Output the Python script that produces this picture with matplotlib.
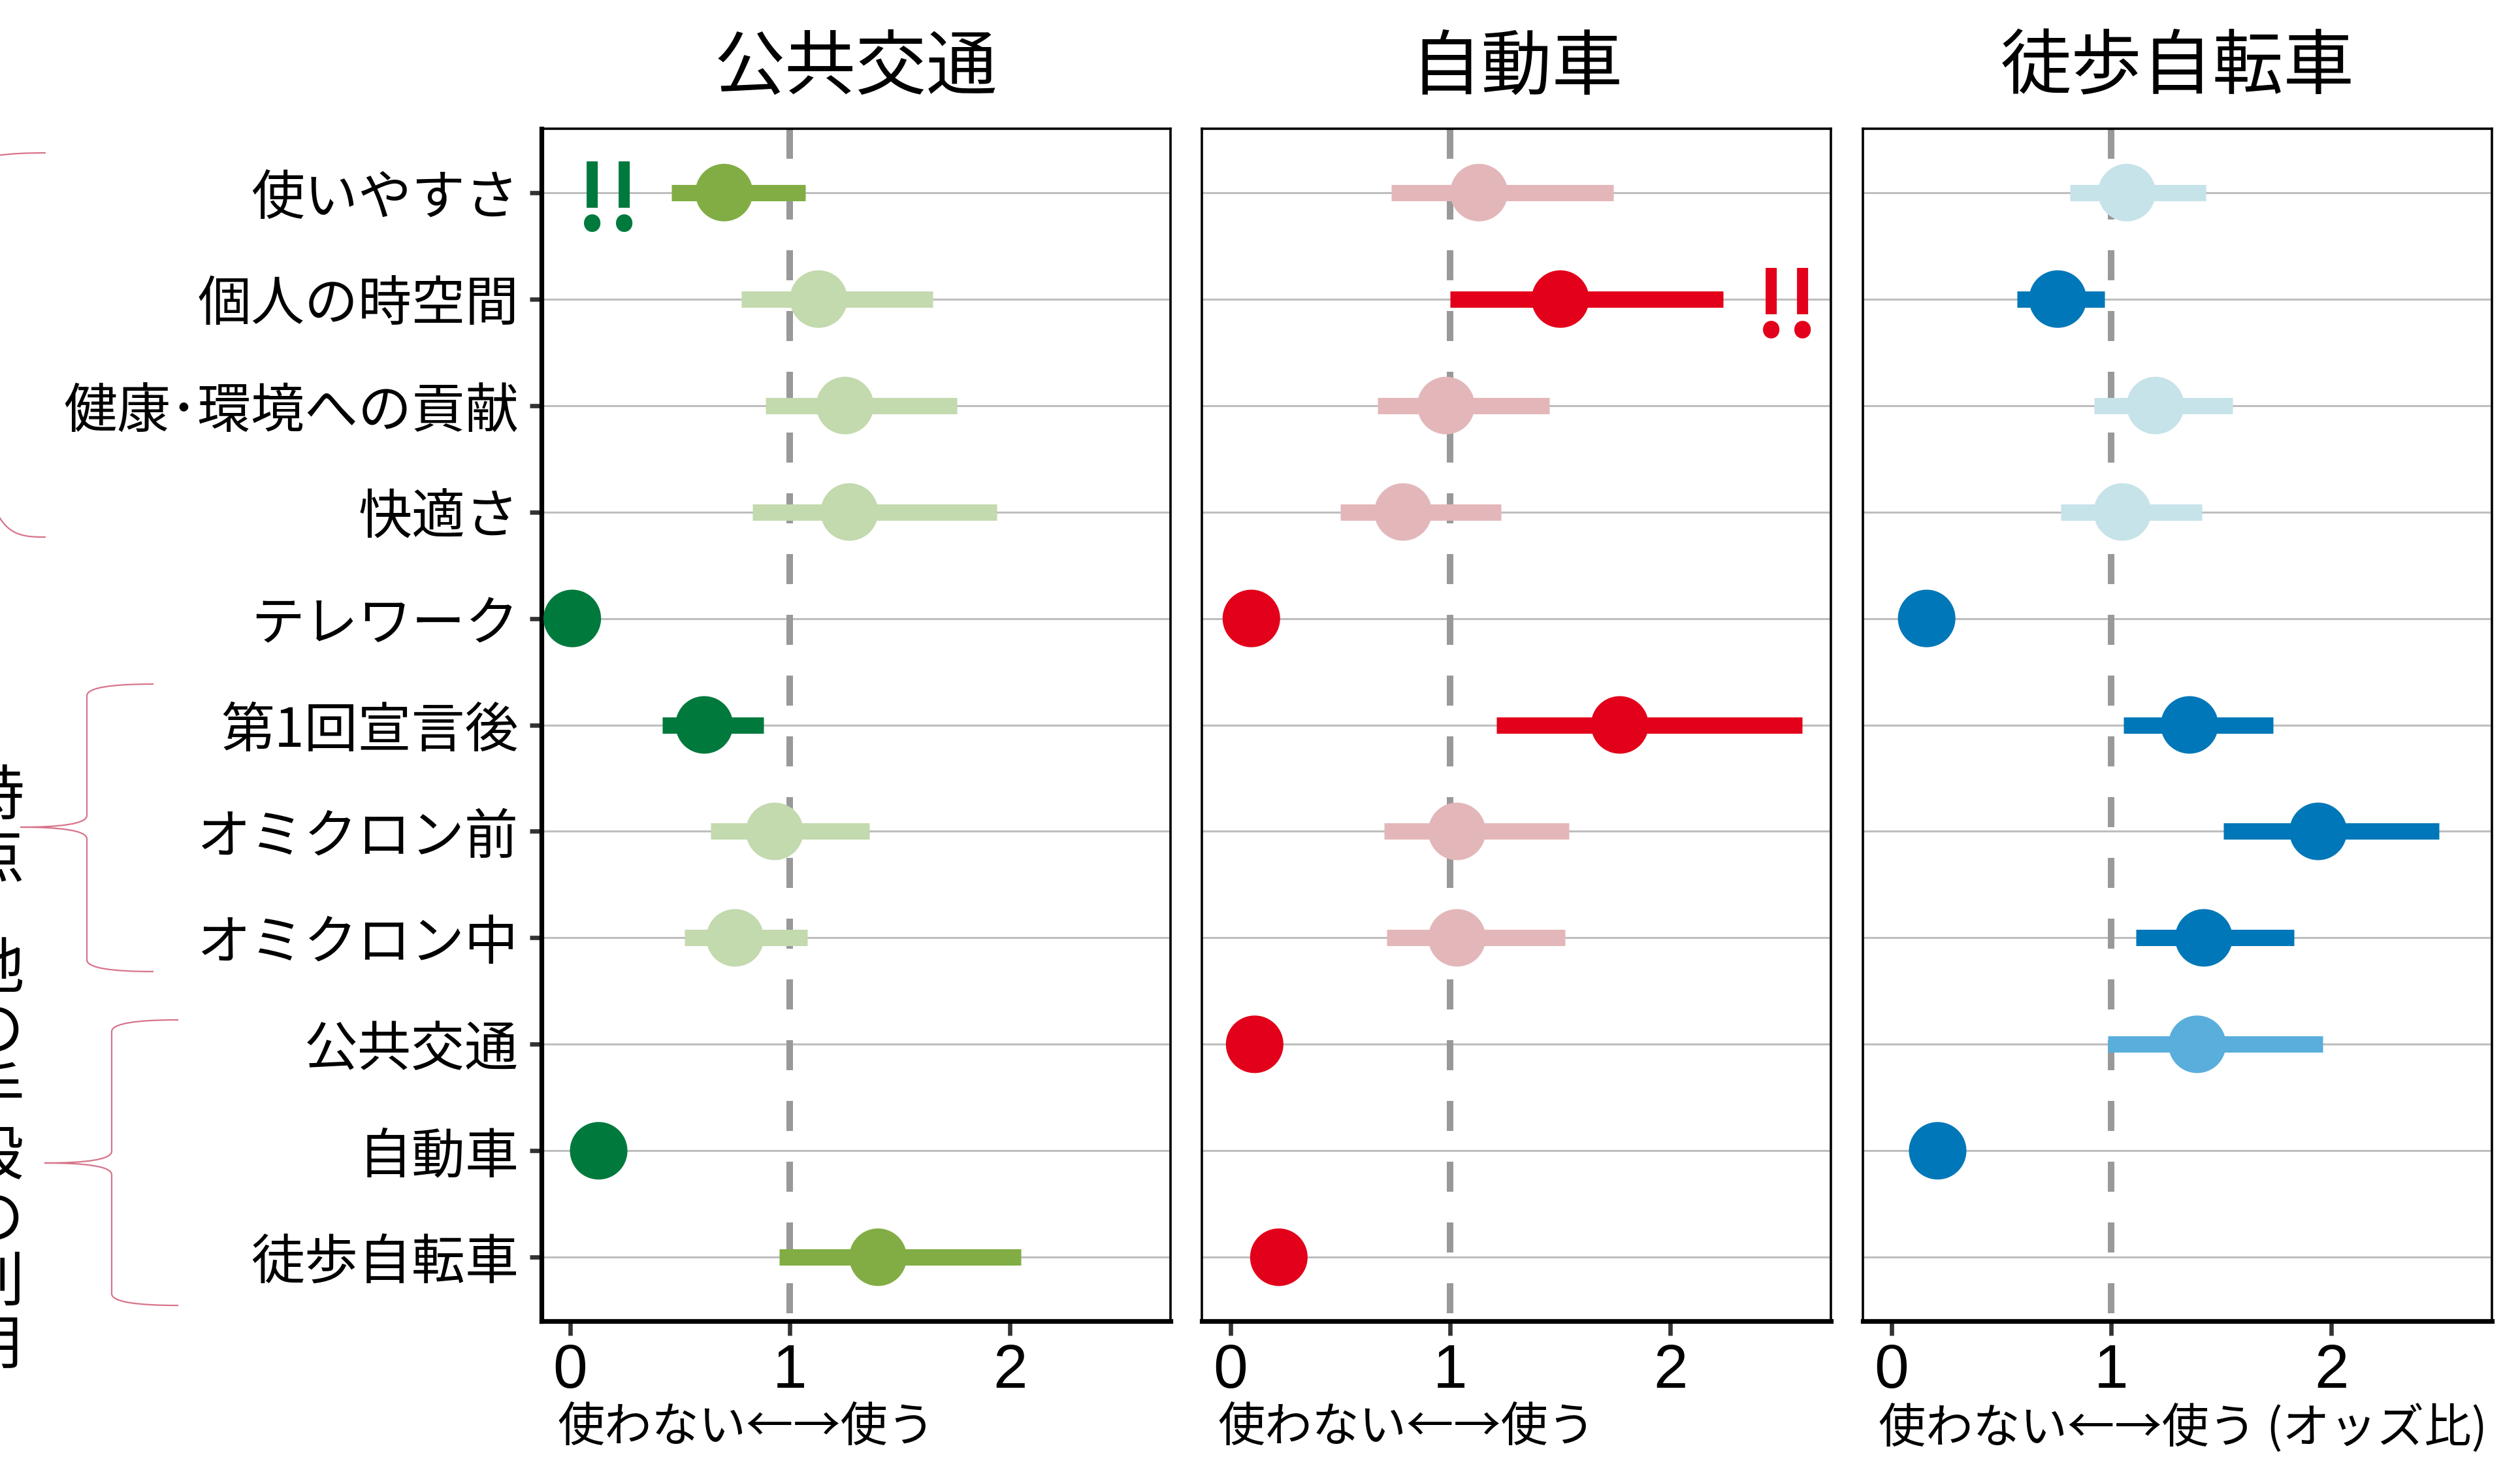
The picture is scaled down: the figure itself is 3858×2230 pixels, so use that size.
import matplotlib
matplotlib.use("Agg")
import matplotlib.pyplot as plt
import numpy as np
from matplotlib.path import Path
from matplotlib.patches import PathPatch

plt.rcParams['font.family'] = ['Noto Sans CJK JP', 'DejaVu Sans']

## data (odds ratios)
items = ["使いやすさ", "個人の時空間", "健康･環境への貢献", "快適さ", "テレワーク",
         "第1回宣言後", "オミクロン前", "オミクロン中", "公共交通", "自動車", "徒歩自転車"]
modes = ["公共交通", "自動車", "徒歩自転車"]
nan = np.nan

pt_est = [0.70, 1.13, 1.25, 1.27, 0.01, 0.61, 0.93, 0.75, nan, 0.13, 1.40]
pt_lo = [0.46, 0.78, 0.89, 0.83, 0.00, 0.42, 0.64, 0.52, nan, 0.11, 0.95]
pt_hi = [1.07, 1.65, 1.76, 1.94, 0.02, 0.88, 1.36, 1.08, nan, 0.16, 2.05]
pt_sig = [1, 0, 0, 0, 2, 2, 0, 0, nan, 2, 1]

car_est = [1.13, 1.50, 0.98, 0.785, 0.095, 1.77, 1.03, 1.03, 0.11, nan, 0.22]
car_lo = [0.73, 1.00, 0.67, 0.50, 0.08, 1.21, 0.70, 0.71, 0.09, nan, 0.19]
car_hi = [1.74, 2.24, 1.45, 1.23, 0.11, 2.60, 1.54, 1.52, 0.13, nan, 0.26]
car_sig = [0, 2, 0, 0, 2, 2, 0, 0, 2, nan, 2]

walk_est = [1.07, 0.756, 1.20, 1.05, 0.16, 1.355, 1.94, 1.42, 1.39, 0.21, nan]
walk_lo = [0.81, 0.57, 0.92, 0.77, 0.13, 1.056, 1.51, 1.11, 0.985, 0.17, nan]
walk_hi = [1.43, 0.97, 1.55, 1.41, 0.19, 1.736, 2.49, 1.83, 1.96, 0.25, nan]
walk_sig = [0, 2, 0, 0, 2, 2, 2, 2, 1, 2, nan]

est = [pt_est, car_est, walk_est]
lo = [pt_lo, car_lo, walk_lo]
hi = [pt_hi, car_hi, walk_hi]
sig = [pt_sig, car_sig, walk_sig]

# light / medium / dark per mode
palettes = [["#C3D9AE", "#82AD45", "#00793D"],
            ["#E3B7BA", "#EC6A78", "#E2001A"],
            ["#C6E3E9", "#5AAEDB", "#0077B8"]]

# "!!" marks: (panel, row, x of each "!")
marks = [(0, 1, [0.10, 0.245]), (1, 2, [2.46, 2.60])]

W, H, DPI = 3858, 2230, 200
fig = plt.figure(figsize=(W / DPI, H / DPI), dpi=DPI)

lefts = [829, 1840, 2852]
ax_w, top, bot = 963, 197, 2022
rows = np.arange(1, len(items) + 1)

axes = []
for k in range(3):
    ax = fig.add_axes([lefts[k] / W, 1 - bot / H, ax_w / W, (bot - top) / H])
    axes.append(ax)
    ax.set_xlim(-0.13, 2.73)
    ax.set_ylim(11.6, 0.4)
    for r in rows:
        ax.axhline(r, color="#BEBEBE", lw=1.1, zorder=1)
    ax.plot([1, 1], [0.4, 11.6], color="#999999", lw=3.6,
            dashes=(4.6, 4.7), zorder=2, solid_capstyle="butt")
    e = np.array(est[k], float)
    l = np.array(lo[k], float)
    h = np.array(hi[k], float)
    s = np.array(sig[k], float)
    ok = ~np.isnan(e)
    cols = [palettes[k][int(v)] for v in s[ok]]
    ax.hlines(rows[ok], l[ok], h[ok], colors=cols, lw=9, zorder=3, capstyle="butt")
    ax.scatter(e[ok], rows[ok], s=31.7 ** 2, c=cols, linewidths=0, zorder=4, clip_on=False)

    for sp in ax.spines.values():
        sp.set_linewidth(1.3)
        sp.set_color("black")
    ax.spines["bottom"].set_linewidth(2.6)
    ax.set_xticks([0, 1, 2])
    ax.set_xticklabels(["0", "1", "2"], fontsize=34, family=["Liberation Sans", "DejaVu Sans"])
    ax.tick_params(axis="x", length=8, width=2.4, color="#333333", pad=4)
    if k == 0:
        ax.spines["left"].set_linewidth(2.6)
        ax.set_yticks(rows)
        ax.set_yticklabels(items, fontsize=29.5)
        ax.tick_params(axis="y", length=6.5, width=2.4, color="#333333", pad=6)
    else:
        ax.set_yticks([])

    cx = (lefts[k] + ax_w / 2) / W
    fig.text(cx, 1 - 105 / H, modes[k], ha="center", va="center", fontsize=39)
    xl = "使わない←→使う" if k < 2 else "使わない←→使う (オッズ比)"
    fig.text((lefts[k] + 24) / W, 1 - 2186 / H, xl, ha="left", va="center", fontsize=26)

for k, r, xs in marks:
    c = palettes[k][2]
    for xx in xs:
        axes[k].text(xx, r + 0.355, "!", color=c, fontsize=50, fontweight="bold",
                     ha="center", va="baseline", zorder=5)


def brace(xv, xe, xp, yt, yb, ym):
    # coordinates in picture pixels, converted to figure fraction
    P = lambda x, y: (x / W, 1 - y / H)
    verts = [P(xe, yt), P(xv + 40, yt), P(xv, yt + 5), P(xv, yt + 18),
             P(xv, ym - 18), P(xv, ym - 5), P(xv - 40, ym), P(xp, ym),
             P(xv - 40, ym), P(xv, ym + 5), P(xv, ym + 18),
             P(xv, yb - 18), P(xv, yb - 5), P(xv + 40, yb), P(xe, yb)]
    codes = [Path.MOVETO, Path.CURVE4, Path.CURVE4, Path.CURVE4,
             Path.LINETO, Path.CURVE4, Path.CURVE4, Path.CURVE4,
             Path.CURVE4, Path.CURVE4, Path.CURVE4,
             Path.LINETO, Path.CURVE4, Path.CURVE4, Path.CURVE4]
    fig.add_artist(PathPatch(Path(verts, codes), fill=False, edgecolor="#D7738A",
                             lw=0.8, transform=fig.transFigure, clip_on=False))


brace(-32, 70, -134, 234, 822, 528)
brace(133, 235, 31, 1047, 1487, 1266)
brace(171, 273, 68, 1561, 1998, 1780)

# vertical group labels, cut by the left edge as in the source
for txt, y0 in [("時点", 1221), ("他の手段の利用", 1485)]:
    for i, ch in enumerate(txt):
        fig.text(-9 / W, 1 - (y0 + 96 * i) / H, ch, ha="center", va="center", fontsize=33)

fig.savefig("out.png", dpi=DPI)
